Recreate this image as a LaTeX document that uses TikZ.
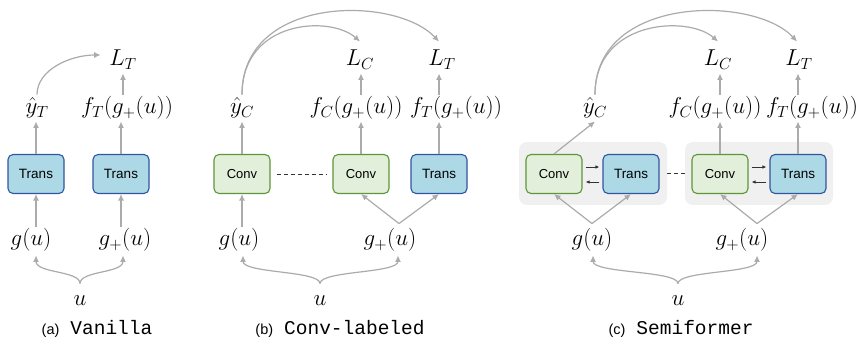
\RequirePackage{fix-cm}
\documentclass[tikz,border=0pt]{standalone}
\usepackage{fontspec}
\setsansfont{Liberation Sans}
\setmonofont{Liberation Mono}
\usetikzlibrary{arrows.meta}
\definecolor{arrgray}{HTML}{ABABAB}
\definecolor{convfill}{HTML}{E2EFDA}
\definecolor{convborder}{HTML}{5E9638}
\definecolor{transfill}{HTML}{ADD8E6}
\definecolor{transborder}{HTML}{2F56A0}
\definecolor{grpfill}{HTML}{F0F0F0}
\newcommand\captt[1]{{\ttfamily\fontsize{19.5}{22}\selectfont #1}}
\begin{document}
\begin{tikzpicture}[x=1pt,y=-1pt,
  arr/.style={draw=arrgray, line width=1.2pt, -{Latex[length=6.5pt,width=6pt]}},
  sarr/.style={draw=black!80, line width=0.8pt, -{Latex[length=4pt,width=3.5pt]}, shorten <=3pt, shorten >=3pt},
  dline/.style={draw=black!80, line width=0.9pt, dash pattern=on 4pt off 3pt},
  ml/.style={inner sep=1.5pt, text height=17.5pt, text depth=6pt, font=\fontsize{23}{27}\selectfont},
  convbox/.style={draw=convborder, fill=convfill, rounded corners=5pt, minimum width=56pt, minimum height=39pt, line width=1.1pt, font=\sffamily\fontsize{13}{15}\selectfont},
  transbox/.style={draw=transborder, fill=transfill, rounded corners=5pt, minimum width=56pt, minimum height=39pt, line width=1.1pt, font=\sffamily\fontsize{13.5}{15}\selectfont},
  grp/.style={fill=grpfill, rounded corners=8pt, minimum width=148pt, minimum height=63pt, inner sep=0pt},
  capt/.style={font=\sffamily\fontsize{14.5}{16}\selectfont, inner sep=0pt}]
\useasboundingbox (0,0) rectangle (859,339);

% ---------- (a) ----------
\node[transbox] (ta1) at (36,174) {Trans};
\node[transbox] (ta2) at (121,174) {Trans};
\node[ml] (ya) at (37,108) {$\hat{y}_T$};
\node[ml] (fa) at (127,108) {$f_T(g_+(u))$};
\node[ml] (lta) at (123,60) {$L_T$};
\node[ml] (ga) at (31,240) {$g(u)$};
\node[ml] (gpa) at (125,240) {$g_+(u)$};
\node[ml] (ua) at (80,300) {$u$};
\node[capt] (capa) at (97,329) {(a)\hspace{11pt}\captt{Vanilla}};

\draw[arr] (ga.north -| ta1) -- (ta1.south);
\draw[arr] (gpa.north -| ta2) -- (ta2.south);
\draw[arr] (ta1.north) -- (ta1.north |- ya.south);
\draw[arr] (ta2.north) -- (ta2.north |- fa.south);
\draw[arr] (fa.north -| lta) -- (lta.south);
\draw[arr] (ya.north) .. controls +(0,-25) and +(-30,0) .. ([shift={(-7pt,5pt)}]lta.west);
\draw[arr] ([yshift=3pt]ua.north) .. controls +(0,-13) and +(0,18) .. ([shift={(5pt,-2pt)}]ga.south);
\draw[arr] ([yshift=3pt]ua.north) .. controls +(0,-13) and +(0,18) .. ([shift={(-2pt,-2pt)}]gpa.south);

% ---------- (b) ----------
\node[convbox] (cb1) at (242,174) {Conv};
\node[convbox] (cb2) at (361,174) {Conv};
\node[transbox] (tb) at (439,174) {Trans};
\draw[dline, shorten <=6pt, shorten >=6pt] (cb1) -- (cb2);
\node[ml] (yb) at (242,108) {$\hat{y}_C$};
\node[ml] (fcb) at (356,108) {$f_C(g_+(u))$};
\node[ml] (ftb) at (456,108) {$f_T(g_+(u))$};
\node[ml] (lcb) at (360,60) {$L_C$};
\node[ml] (ltb) at (442,60) {$L_T$};
\node[ml] (gb) at (239,240) {$g(u)$};
\node[ml] (gpb) at (390,240) {$g_+(u)$};
\node[ml] (ub) at (320,300) {$u$};
\node[capt] (capb) at (340,329) {(b)\hspace{11pt}\captt{Conv-labeled}};

\draw[arr] (gb.north -| cb1) -- (cb1.south);
\draw[arr] ([shift={(9pt,3pt)}]gpb.north) -- (cb2.south);
\draw[arr] ([shift={(9pt,3pt)}]gpb.north) -- (tb.south);
\draw[arr] (cb1.north) -- (cb1.north |- yb.south);
\draw[arr] (cb2.north) -- (cb2.north |- fcb.south);
\draw[arr] (tb.north) -- (tb.north |- ftb.south);
\draw[arr] (fcb.north -| cb2) -- (cb2 |- lcb.south);
\draw[arr] (ftb.north -| tb) -- (tb |- ltb.south);
\draw[arr] (yb.north) .. controls (242,20) and (330,15) .. ([yshift=5pt]lcb.north);
\draw[arr] (yb.north) .. controls (242,-5) and (395,-5) .. ([shift={(-3pt,5pt)}]ltb.north);
\draw[arr] ([yshift=3pt]ub.north) .. controls +(0,-13) and +(0,18) .. ([shift={(4pt,-2pt)}]gb.south);
\draw[arr] ([yshift=3pt]ub.north) .. controls +(0,-13) and +(0,18) .. ([shift={(8pt,-2pt)}]gpb.south);

% ---------- (c) ----------
\node[grp] (g1) at (593,173.5) {};
\node[grp] (g2) at (759,173.5) {};
\draw[dline] (g1.east) -- (g2.west);
\node[convbox] (cc1) at (554,174) {Conv};
\node[transbox] (ct1) at (631,174) {Trans};
\node[convbox] (cc2) at (720,174) {Conv};
\node[transbox] (ct2) at (798,174) {Trans};
\draw[sarr] ([yshift=7pt]cc1.east) -- ([yshift=7pt]ct1.west);
\draw[sarr] ([yshift=-8pt]ct1.west) -- ([yshift=-8pt]cc1.east);
\draw[sarr] ([yshift=7pt]cc2.east) -- ([yshift=7pt]ct2.west);
\draw[sarr] ([yshift=-8pt]ct2.west) -- ([yshift=-8pt]cc2.east);
\node[ml] (yc) at (595,108) {$\hat{y}_C$};
\node[ml] (fcc) at (715,108) {$f_C(g_+(u))$};
\node[ml] (ftc) at (812,108) {$f_T(g_+(u))$};
\node[ml] (lcc) at (718,60) {$L_C$};
\node[ml] (ltc) at (799,60) {$L_T$};
\node[ml] (gc) at (592,240) {$g(u)$};
\node[ml] (gpc) at (742,240) {$g_+(u)$};
\node[ml] (uc) at (678,300) {$u$};
\node[capt] (capc) at (681,329) {(c)\hspace{11pt}\captt{Semiformer}};

\draw[arr] ([yshift=3pt]gc.north) -- (cc1.south);
\draw[arr] ([yshift=3pt]gc.north) -- (ct1.south);
\draw[arr] ([shift={(15pt,3pt)}]gpc.north) -- (cc2.south);
\draw[arr] ([shift={(15pt,3pt)}]gpc.north) -- (ct2.south);
\draw[arr] (cc1.north) -- (yc.south);
\draw[arr] (cc2.north) -- (cc2.north |- fcc.south);
\draw[arr] (ct2.north) -- (ct2.north |- ftc.south);
\draw[arr] (fcc.north -| cc2) -- (cc2 |- lcc.south);
\draw[arr] (ftc.north -| ct2) -- (ct2 |- ltc.south);
\draw[arr] (yc.north) .. controls (595,20) and (688,15) .. ([yshift=5pt]lcc.north);
\draw[arr] (yc.north) .. controls (595,-5) and (754,-5) .. ([shift={(-2pt,5pt)}]ltc.north);
\draw[arr] ([yshift=3pt]uc.north) .. controls +(0,-13) and +(0,18) .. ([shift={(1pt,-2pt)}]gc.south);
\draw[arr] ([yshift=3pt]uc.north) .. controls +(0,-13) and +(0,18) .. ([shift={(15pt,-2pt)}]gpc.south);
\end{tikzpicture}
\end{document}
